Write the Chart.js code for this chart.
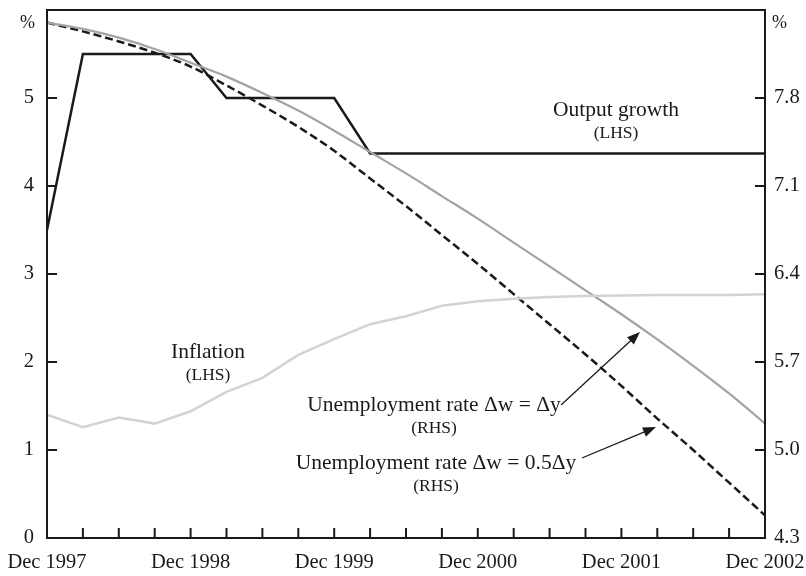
<!DOCTYPE html>
<html>
<head>
<meta charset="utf-8">
<script src="https://cdn.jsdelivr.net/npm/chart.js@4.4.0/dist/chart.umd.min.js"></script>
<style>
    html, body { margin: 0; padding: 0; background: #fff; }
    #wrap { width: 806px; height: 576px; position: relative; }
</style>
</head>
<body>
<div id="wrap"><canvas id="mainChart"></canvas></div>
<script>
// quarterly, Dec 1997 - Dec 2002
const quarters = [
    'Dec 1997', 'Mar 1998', 'Jun 1998', 'Sep 1998',
    'Dec 1998', 'Mar 1999', 'Jun 1999', 'Sep 1999',
    'Dec 1999', 'Mar 2000', 'Jun 2000', 'Sep 2000',
    'Dec 2000', 'Mar 2001', 'Jun 2001', 'Sep 2001',
    'Dec 2001', 'Mar 2002', 'Jun 2002', 'Sep 2002',
    'Dec 2002'
];

// LHS, %
const outputGrowth = [3.5, 5.5, 5.5, 5.5, 5.5, 5.0, 5.0, 5.0, 5.0, 4.37, 4.37, 4.37, 4.37, 4.37, 4.37, 4.37, 4.37, 4.37, 4.37, 4.37, 4.37];
const inflation = [1.40, 1.26, 1.37, 1.30, 1.44, 1.66, 1.82, 2.08, 2.26, 2.43, 2.52, 2.64, 2.69, 2.72, 2.74, 2.75, 2.755, 2.76, 2.76, 2.76, 2.77];

// RHS, %
const unempFull = [8.40, 8.35, 8.28, 8.19, 8.08, 7.97, 7.84, 7.70, 7.54, 7.37, 7.20, 7.02, 6.84, 6.65, 6.46, 6.27, 6.08, 5.88, 5.67, 5.45, 5.21];
const unempHalf = [8.40, 8.33, 8.25, 8.16, 8.05, 7.90, 7.74, 7.57, 7.38, 7.16, 6.94, 6.71, 6.48, 6.24, 6.00, 5.76, 5.51, 5.25, 5.00, 4.74, 4.48];

const leftTicks = [0, 1, 2, 3, 4, 5];
const rightTicks = [4.3, 5.0, 5.7, 6.4, 7.1, 7.8];
const leftRange = [0, 6];
const rightRange = [4.3, 8.5];

const serif = '"Liberation Serif", "DejaVu Serif", serif';
const ink = '#1a1a1a';

// frame, inward tick marks, % labels and the notes with arrows
const decorPlugin = {
    id: 'decor',
    afterDatasetsDraw(chart) {
        const ctx = chart.ctx;
        const a = chart.chartArea;
        const xs = chart.scales.x;
        const yl = chart.scales.y;
        const yr = chart.scales.y1;

        ctx.save();
        ctx.strokeStyle = ink;
        ctx.lineWidth = 2;
        ctx.strokeRect(a.left, a.top, a.right - a.left, a.bottom - a.top);

        ctx.beginPath();
        quarters.forEach((q, i) => {
            const x = xs.getPixelForValue(i);
            ctx.moveTo(x, a.bottom);
            ctx.lineTo(x, a.bottom - 10);
        });
        leftTicks.forEach(v => {
            const y = yl.getPixelForValue(v);
            ctx.moveTo(a.left, y);
            ctx.lineTo(a.left + 10, y);
        });
        rightTicks.forEach(v => {
            const y = yr.getPixelForValue(v);
            ctx.moveTo(a.right, y);
            ctx.lineTo(a.right - 10, y);
        });
        ctx.stroke();

        ctx.fillStyle = ink;
        ctx.textBaseline = 'middle';
        ctx.font = '18px ' + serif;
        ctx.textAlign = 'right';
        ctx.fillText('%', 35, 23);
        ctx.textAlign = 'left';
        ctx.fillText('%', 772, 23);

        ctx.textAlign = 'center';
        const note = (text, sub, x, y) => {
            ctx.font = '21.5px ' + serif;
            ctx.fillText(text, x, y);
            ctx.font = '17.5px ' + serif;
            ctx.fillText(sub, x, y + 23);
        };
        note('Output growth', '(LHS)', 616, 110);
        note('Inflation', '(LHS)', 208, 352);
        note('Unemployment rate \u0394w = \u0394y', '(RHS)', 434, 405);
        note('Unemployment rate \u0394w = 0.5\u0394y', '(RHS)', 436, 463);

        const arrow = (x1, y1, x2, y2) => {
            const ang = Math.atan2(y2 - y1, x2 - x1);
            ctx.lineWidth = 1.3;
            ctx.beginPath();
            ctx.moveTo(x1, y1);
            ctx.lineTo(x2 - 8 * Math.cos(ang), y2 - 8 * Math.sin(ang));
            ctx.stroke();
            ctx.beginPath();
            ctx.moveTo(x2, y2);
            ctx.lineTo(x2 - 13 * Math.cos(ang) + 5 * Math.sin(ang), y2 - 13 * Math.sin(ang) - 5 * Math.cos(ang));
            ctx.lineTo(x2 - 13 * Math.cos(ang) - 5 * Math.sin(ang), y2 - 13 * Math.sin(ang) + 5 * Math.cos(ang));
            ctx.closePath();
            ctx.fill();
        };
        arrow(561, 405, 640, 332);
        arrow(582, 458, 656, 427);
        ctx.restore();
    }
};

// fixed axis sizes, no extra label padding
function fixSize(w, h) {
    return s => {
        if (w !== null) s.width = w;
        if (h !== null) s.height = h;
        s.paddingTop = 0;
        s.paddingBottom = 0;
        s.paddingLeft = 0;
        s.paddingRight = 0;
    };
}

function buildChart() {
    const ctx = document.getElementById('mainChart').getContext('2d');
    new Chart(ctx, {
        type: 'line',
        data: {
            labels: quarters,
            datasets: [
                { label: 'Inflation', data: inflation, yAxisID: 'y', borderColor: '#d3d3d3', borderWidth: 2.5, tension: 0 },
                { label: 'Unemployment rate dw = dy', data: unempFull, yAxisID: 'y1', borderColor: '#a3a3a3', borderWidth: 2.2, cubicInterpolationMode: 'monotone' },
                { label: 'Unemployment rate dw = 0.5dy', data: unempHalf, yAxisID: 'y1', borderColor: ink, borderWidth: 2.5, borderDash: [8, 4], cubicInterpolationMode: 'monotone' },
                { label: 'Output growth', data: outputGrowth, yAxisID: 'y', borderColor: ink, borderWidth: 2.5, tension: 0 }
            ]
        },
        options: {
            responsive: true,
            maintainAspectRatio: false,
            animation: false,
            elements: { point: { radius: 0 } },
            layout: { padding: { top: 10, left: 0, right: 0, bottom: 0 } },
            plugins: { legend: { display: false }, tooltip: { enabled: false } },
            scales: {
                x: {
                    offset: false,
                    grid: { display: false, drawTicks: false },
                    border: { display: false },
                    afterFit: fixSize(null, 38),
                    ticks: {
                        autoSkip: false, maxRotation: 0, padding: 12, color: ink,
                        font: { family: serif, size: 20.5 },
                        callback: function (v, i) { return quarters[i].startsWith('Dec') ? quarters[i] : ''; }
                    }
                },
                y: {
                    position: 'left', min: leftRange[0], max: leftRange[1],
                    grid: { display: false, drawTicks: false },
                    border: { display: false },
                    afterFit: fixSize(47, null),
                    afterBuildTicks: s => { s.ticks = leftTicks.map(v => ({ value: v })); },
                    ticks: { padding: 13, color: ink, font: { family: serif, size: 20.5 } }
                },
                y1: {
                    position: 'right', min: rightRange[0], max: rightRange[1],
                    grid: { display: false, drawTicks: false },
                    border: { display: false },
                    afterFit: fixSize(41, null),
                    afterBuildTicks: s => { s.ticks = rightTicks.map(v => ({ value: v })); },
                    ticks: { padding: 9, color: ink, font: { family: serif, size: 20.5 }, callback: v => v.toFixed(1) }
                }
            }
        },
        plugins: [decorPlugin]
    });
}

document.addEventListener('DOMContentLoaded', buildChart);
</script>
</body>
</html>
